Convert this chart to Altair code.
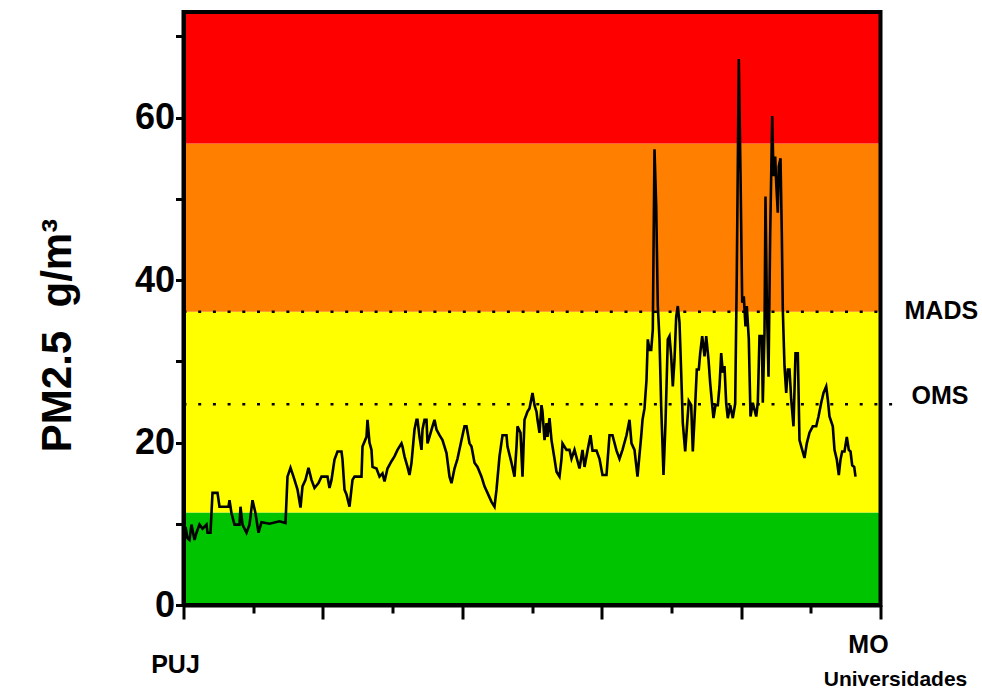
import altair as alt
import pandas as pd

# distance along the route (axis units, 0 = PUJ, 697 = MO Universidades)
dist = [2, 4, 6, 8, 11, 13, 16, 19, 23, 24, 27, 29, 34, 36, 38, 45, 46, 48, 51, 56,
        57, 59, 63, 66, 69, 72, 75, 78, 86, 96, 102, 104, 107, 110, 114, 117, 119, 122, 125, 128,
        131, 135, 138, 144, 146, 148, 151, 154, 158, 159, 161, 163, 166,
        169, 171, 178, 179, 183, 184, 186, 188, 189, 193, 196, 199, 201, 204, 208, 211, 214,
        218, 219, 221, 224, 226, 228, 231, 233, 234, 236, 238, 239, 241, 243, 244, 246, 249, 251,
        253, 256, 259, 263, 266, 268, 271, 274, 278, 281, 283, 286, 288, 291, 294, 298, 301, 304,
        308, 311, 313, 316, 319, 323, 324, 328, 331, 333, 334, 337, 339, 341, 344, 346,
        349, 351, 353, 354, 356, 358, 359, 361, 363, 364, 366, 368, 371, 373, 376, 378, 379, 383,
        386, 388, 391, 396, 399, 401, 404, 407, 409, 413, 416, 419, 423, 426, 429, 433, 436, 439,
        443, 446, 448, 451, 454, 458, 459, 461, 463,
        464.3, 466, 467.7, 469.3, 471, 472.7, 474.3, 476, 477.7, 480, 482, 484.3, 486, 487.7,
        489.3, 491, 492.7, 494.3, 496, 497.7, 499.3, 501.7, 503.7, 505.3, 507.7, 509.3, 511.7,
        513.3, 515.3, 516.7, 518.7, 521, 522.7, 525, 526.7, 528.7, 530, 532, 534.3, 536, 537.7,
        539.3, 541, 542.7, 544.3, 546.7, 549.3, 551.7, 553.3, 555.3, 557, 558.7, 560.3, 562,
        563.3, 565.3,
        567, 569.3, 572.7, 574.3, 576, 578.3, 579.3, 581, 582, 583.3, 585, 586.7, 588.7, 590,
        591.7, 592.7, 594.3, 595.3, 597, 598.3, 599.3, 601, 602.7, 604.3, 606, 607.7, 610, 612,
        614.3, 616, 618.7, 621, 623.3, 626, 629.3, 632.7, 635, 637.7, 640, 642.7, 644.3, 646,
        649.3, 651, 653.3, 655.3, 657, 658.7, 661, 663.3, 665.3, 667, 668.7, 670.7, 672]

pm25 = [9.6, 8.2, 8.0, 9.9, 8.0, 8.9, 9.9, 9.4, 9.9, 8.9, 8.9, 13.8, 13.8, 12.1, 12.1, 12.1, 12.9, 11.3, 9.9, 9.9,
        12.1, 9.9, 8.9, 9.9, 12.9, 11.3, 8.9, 10.2, 10.0, 10.3, 10.1, 15.8, 16.9, 15.8, 14.2, 12.0, 14.6, 15.4, 16.9, 15.4,
        14.4, 15.0, 15.8, 15.8, 14.4, 15.4, 17.9, 18.9, 18.9, 17.9, 14.2, 13.6, 12.1,
        15.4, 15.8, 15.8, 19.5, 20.7, 22.8, 20.0, 19.1, 17.0, 16.8, 15.8, 16.2, 15.2, 16.8, 17.7, 18.3, 19.1,
        19.9, 19.5, 18.3, 17.0, 16.0, 17.5, 21.6, 22.8, 22.8, 20.7, 19.1, 21.6, 22.8, 22.8, 19.9, 20.7, 22.0, 22.8,
        21.6, 20.9, 20.3, 18.7, 15.8, 15.0, 16.8, 18.0, 20.3, 22.0, 22.0, 19.9, 19.5, 17.5, 17.0, 15.8, 14.6, 13.8,
        12.7, 12.1, 14.2, 18.3, 20.9, 20.9, 19.5, 17.5, 15.8, 19.5, 22.0, 21.2, 15.8, 22.8, 23.8, 24.2,
        26.1, 24.6, 23.8, 22.8, 21.2, 24.6, 23.8, 20.3, 22.4, 20.7, 23.0, 20.3, 18.0, 16.4, 15.8, 18.0, 19.9, 19.1,
        19.1, 18.0, 19.1, 16.8, 19.1, 17.0, 19.0, 20.9, 19.0, 19.0, 18.0, 16.0, 16.0, 20.9, 20.9, 19.0, 18.0, 19.1,
        20.9, 22.8, 19.9, 19.1, 15.8, 21.2, 22.8, 24.2, 27.7,
        32.7, 31.4, 31.4, 33.9, 56.1, 49.1, 36.8, 32.7, 24.4, 16.0, 22.4, 32.7, 33.1, 30.6,
        26.9, 30.2, 35.5, 36.8, 34.8, 28.6, 22.4, 18.9, 22.4, 25.1, 24.6, 18.9, 24.6,
        29.0, 29.0, 31.0, 33.1, 30.6, 33.1, 30.2, 27.3, 24.6, 23.0, 24.6, 24.6, 26.9, 31.0,
        28.6, 29.4, 24.8, 23.0, 24.6, 23.0, 24.8, 40.9, 67.2, 53.2, 37.2, 38.0, 34.3,
        36.8, 32.7,
        23.2, 24.9, 23.2, 24.9, 33.1, 33.1, 24.9, 33.5, 50.3, 37.6, 28.1, 45.8, 60.2, 52.8,
        55.2, 52.0, 48.3, 54.0, 55.0, 45.8, 36.4, 29.4, 26.1, 29.0, 29.0, 25.3, 22.0, 31.0,
        31.0, 20.3, 19.1, 18.1, 19.9, 21.2, 22.0, 22.0, 23.2, 24.9, 26.1, 26.9, 25.3, 23.2,
        22.0, 19.1, 17.9, 16.0, 17.9, 18.9, 18.9, 20.7, 19.1, 18.9, 17.2, 17.0, 15.8]

band_lo = [0, 11.4, 36.1, 56.8]
band_hi = [11.4, 36.1, 56.8, 73]
band_color = ["#00C400", "#FFFF00", "#FF8000", "#FF0000"]

limit_names = ["MADS", "OMS"]
limit_values = [36.1, 24.7]
limit_ends = [705, 718]

x_ticks = [0, 69.7, 139.4, 209.1, 278.8, 348.5, 418.2, 487.9, 557.6, 627.3, 697]
y_ticks = [0, 10, 20, 30, 40, 50, 60, 70]

X_MAX = 697
Y_MAX = 73

BOLD = "Liberation Sans"

xscale = alt.Scale(domain=[0, X_MAX], nice=False, zero=False)
yscale = alt.Scale(domain=[0, Y_MAX], nice=False)

x_axis = alt.Axis(
    values=x_ticks, labels=False, title=None, grid=False,
    domainColor="black", domainWidth=4, tickColor="black", tickWidth=3,
    tickSize={"condition": {"test": "round(datum.value / 69.7) % 2 == 0", "value": 14}, "value": 8},
    zindex=1,
)
y_axis = alt.Axis(
    values=y_ticks, grid=False, title="PM2.5\u00a0\u00a0g/m³",
    labelExpr="datum.value % 20 == 0 ? datum.label : ''",
    labelFont=BOLD, labelFontWeight="bold", labelFontSize=36, labelColor="black",
    labelPadding=1, tickColor="black", tickWidth=3, tickSize=8,
    domainColor="black", domainWidth=4,
    titleFont=BOLD, titleFontWeight="bold", titleFontSize=42, titleColor="black",
    titleX=-126, titleY=323, titleAlign="center", titleBaseline="middle", titleAngle=270,
    zindex=1,
)

bands_df = pd.DataFrame({"lo": band_lo, "hi": band_hi, "color": band_color,
                         "x0": [0] * 4, "x1": [X_MAX] * 4})
bands = alt.Chart(bands_df).mark_rect().encode(
    x=alt.X("x0:Q", scale=xscale, axis=x_axis),
    x2="x1",
    y=alt.Y("lo:Q", scale=yscale, axis=y_axis),
    y2="hi",
    color=alt.Color("color:N", scale=None),
)

limits_df = pd.DataFrame({"name": limit_names, "value": limit_values,
                          "x0": [0, 0], "x1": limit_ends})
rules = alt.Chart(limits_df).mark_rule(
    color="black", strokeWidth=2.5, strokeDash=[3, 11.7]
).encode(
    x=alt.X("x0:Q", scale=xscale),
    x2="x1",
    y=alt.Y("value:Q", scale=yscale),
)

line_df = pd.DataFrame({"dist": dist, "pm25": pm25})
line = alt.Chart(line_df).mark_line(color="black", strokeWidth=2.6, strokeJoin="miter").encode(
    x=alt.X("dist:Q", scale=xscale),
    y=alt.Y("pm25:Q", scale=yscale),
)

frame_df = pd.DataFrame({"x0": [0], "x1": [X_MAX], "y0": [0], "y1": [Y_MAX]})
frame = alt.Chart(frame_df).mark_rect(
    fillOpacity=0, stroke="black", strokeWidth=4
).encode(
    x=alt.X("x0:Q", scale=xscale), x2="x1",
    y=alt.Y("y0:Q", scale=yscale), y2="y1",
)

mads_text = alt.Chart(limits_df.iloc[[0]]).mark_text(
    align="left", baseline="middle", font=BOLD, fontWeight="bold", fontSize=25, color="black",
    dy=-1
).encode(x=alt.value(721), y=alt.Y("value:Q", scale=yscale), text="name:N")

oms_text = alt.Chart(limits_df.iloc[[1]]).mark_text(
    align="left", baseline="middle", font=BOLD, fontWeight="bold", fontSize=25, color="black", dy=-8
).encode(x=alt.value(728), y=alt.Y("value:Q", scale=yscale), text="name:N")

ends_df = pd.DataFrame({"t": ["PUJ", "MO", "Universidades"],
                        "px": [-8, 685, 712], "py": [653, 633, 668],
                        "fs": [25, 25, 21]})

def end_label(i):
    row = ends_df.iloc[[i]]
    return alt.Chart(row).mark_text(
        align="center", baseline="middle", font=BOLD, fontWeight="bold",
        fontSize=int(row["fs"].iloc[0]), color="black"
    ).encode(x=alt.value(float(row["px"].iloc[0])), y=alt.value(float(row["py"].iloc[0])), text="t:N")

chart = alt.layer(
    bands, rules, line, frame, mads_text, oms_text, end_label(0), end_label(1), end_label(2)
).properties(
    width=697, height=593,
    padding={"left": 183.5, "top": 12, "right": 101.5, "bottom": 85},
    autosize=alt.AutoSizeParams(type="none"),
    background="white",
).configure_view(stroke=None)

chart.save("out.html", embed_options={"renderer": "svg", "actions": False})
